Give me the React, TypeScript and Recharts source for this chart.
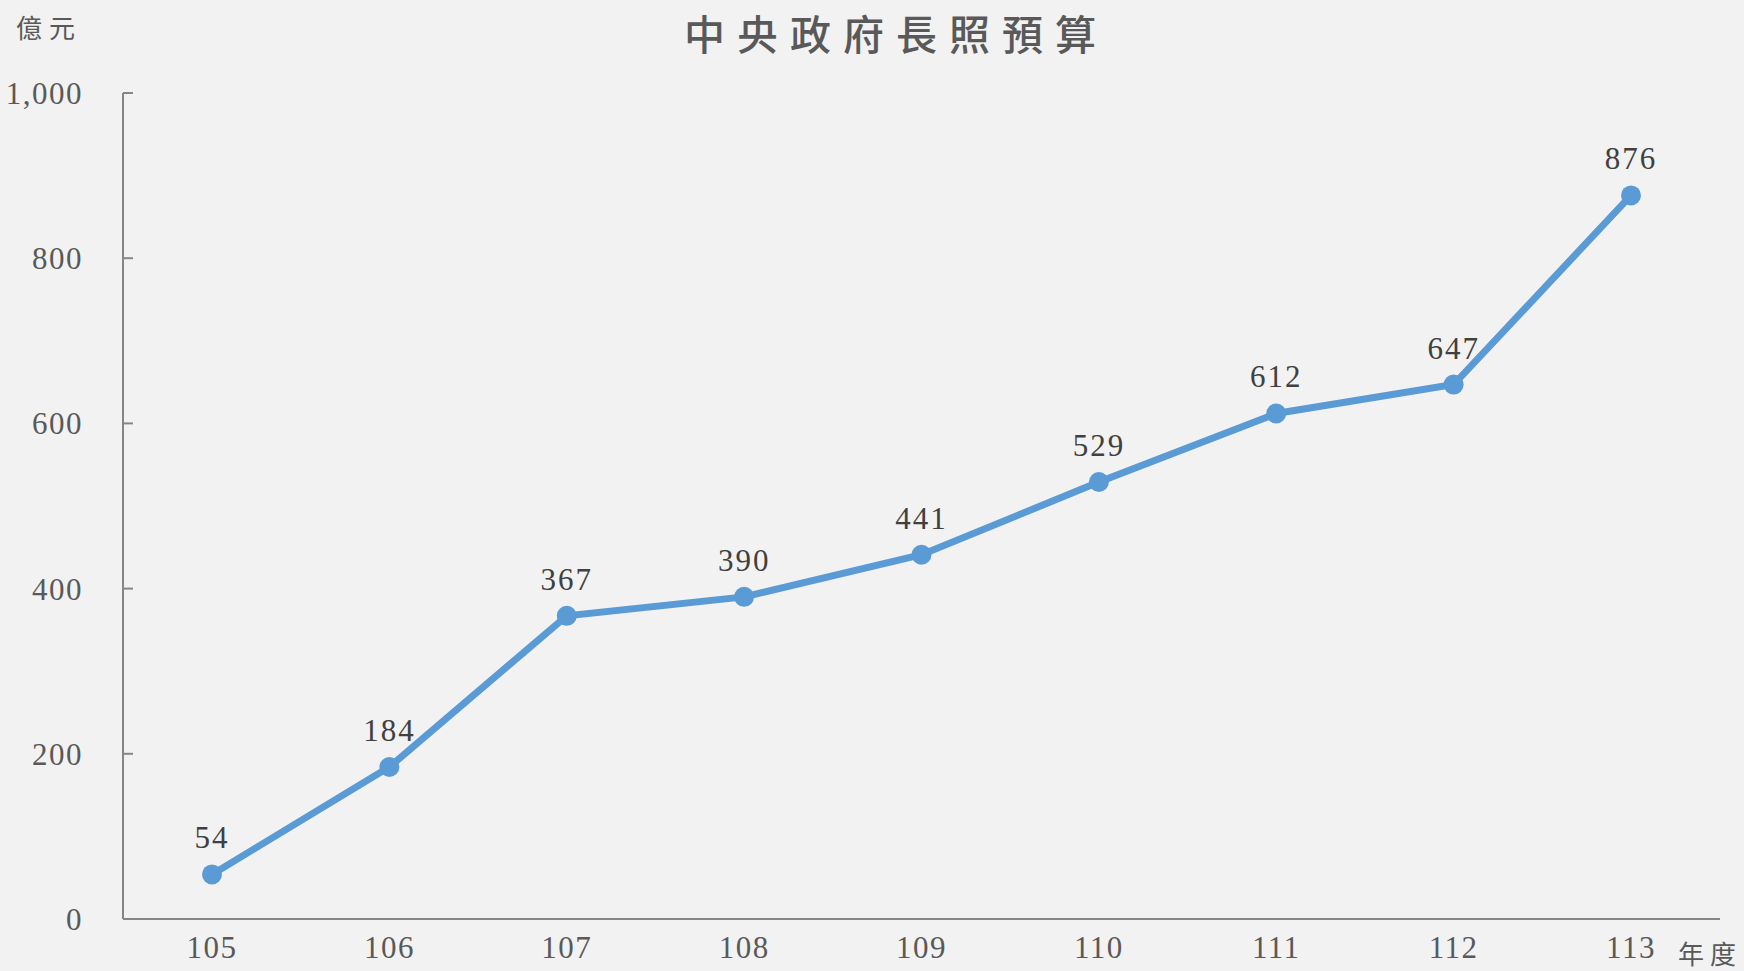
import { LineChart, Line, XAxis, YAxis, LabelList } from "recharts";

const years = ["105", "106", "107", "108", "109", "110", "111", "112", "113"];
const budget = [54, 184, 367, 390, 441, 529, 612, 647, 876];
const yTicks = [0, 200, 400, 600, 800, 1000];

const data = years.map((y, i) => ({ year: y, budget: budget[i] }));

const serif = "'Liberation Serif', 'Times New Roman', serif";
const cjk = "'Noto Sans CJK TC', 'Noto Sans CJK SC', sans-serif";
const textColor = "#595959";
const axisColor = "#868686";
const lineColor = "#5b9bd5";

function YTick({ x, y, payload }: any) {
  // tickSize is 0, so the axis sits tickMargin (40) to the right of x
  const ax = x + 40;
  return (
    <g>
      <line x1={ax} x2={ax + 10} y1={y} y2={y} stroke={axisColor} strokeWidth={2} />
      <text x={x} y={y} dy="0.355em" textAnchor="end" fill={textColor} fontFamily={serif} fontSize={31} letterSpacing={1.5}>
        {payload.value.toLocaleString("en-US")}
      </text>
    </g>
  );
}

export default function App() {
  return (
    <div style={{ position: "fixed", left: 0, top: 0, width: 1744, height: 971, background: "#f2f2f2" }}>
      <div
        style={{
          position: "absolute", left: 684, top: 2, whiteSpace: "nowrap",
          fontFamily: cjk, fontSize: 41, fontWeight: 500, color: textColor, letterSpacing: 12,
        }}
      >
        中央政府長照預算
      </div>
      <div style={{ position: "absolute", left: 16, top: 8, fontFamily: cjk, fontSize: 26, color: textColor, letterSpacing: 7 }}>
        億元
      </div>
      <div style={{ position: "absolute", left: 1678, top: 934, fontFamily: cjk, fontSize: 26, color: textColor, letterSpacing: 6 }}>
        年度
      </div>
      <LineChart width={1744} height={971} data={data} margin={{ top: 93, right: 24, bottom: 22, left: 0 }}>
        <XAxis
          dataKey="year"
          padding={{ left: 89, right: 89 }}
          tickLine={false}
          tickSize={0}
          tickMargin={17}
          stroke={axisColor}
          strokeWidth={2}
          tick={{ fill: textColor, fontFamily: serif, fontSize: 31, letterSpacing: 1.5 }}
          interval={0}
        />
        <YAxis
          width={123}
          domain={[0, 1000]}
          ticks={yTicks}
          tickLine={false}
          tickSize={0}
          tickMargin={40}
          stroke={axisColor}
          strokeWidth={2}
          tick={<YTick />}
          interval={0}
        />
        <Line
          type="linear"
          dataKey="budget"
          stroke={lineColor}
          strokeWidth={7}
          dot={{ r: 10, fill: lineColor, stroke: "none" }}
          activeDot={false}
          isAnimationActive={false}
        >
          <LabelList dataKey="budget" position="top" offset={26} fill="#404040" fontFamily={serif} fontSize={31} letterSpacing={2} />
        </Line>
      </LineChart>
    </div>
  );
}
